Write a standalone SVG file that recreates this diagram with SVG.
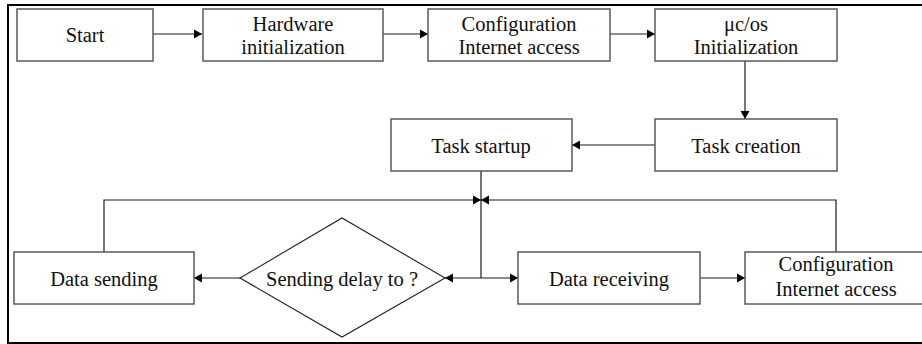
<svg xmlns="http://www.w3.org/2000/svg" width="922" height="344" viewBox="0 0 922 344">
  <style>
    .box { fill: #ffffff; stroke: #5a5a5a; stroke-width: 1.5; }
    .frame { fill: none; stroke: #000000; stroke-width: 2; }
    .wire { fill: none; stroke: #1a1a1a; stroke-width: 1.2; }
    .lbl { font-family: "Liberation Serif", "Times New Roman", serif; font-size: 20.5px; fill: #111111; text-anchor: middle; }
  </style>
  <defs>
    <marker id="arrow" markerUnits="userSpaceOnUse" markerWidth="9" markerHeight="10" refX="8" refY="5" orient="auto">
      <path d="M0,0.5 L8,5 L0,9.5 z" fill="#000000"/>
    </marker>
  </defs>

  <rect width="922" height="344" fill="#ffffff"/>

  <!-- outer frame (open on the right) -->
  <path class="frame" d="M922,5 L8,5 L8,343 L922,343"/>

  <!-- connectors -->
  <g id="connectors">
    <line class="wire" x1="153" y1="34" x2="202" y2="34" marker-end="url(#arrow)"/>
    <line class="wire" x1="383" y1="34" x2="428" y2="34" marker-end="url(#arrow)"/>
    <line class="wire" x1="610" y1="34" x2="655" y2="34" marker-end="url(#arrow)"/>
    <line class="wire" x1="745" y1="61" x2="745" y2="119" marker-end="url(#arrow)"/>
    <line class="wire" x1="655" y1="145" x2="572" y2="145" marker-end="url(#arrow)"/>
    <line class="wire" x1="481" y1="171" x2="481" y2="278"/>
    <line class="wire" x1="481" y1="278" x2="445" y2="278" marker-end="url(#arrow)"/>
    <line class="wire" x1="481" y1="278" x2="518" y2="278" marker-end="url(#arrow)"/>
    <line class="wire" x1="240" y1="278" x2="194" y2="278" marker-end="url(#arrow)"/>
    <line class="wire" x1="700" y1="278" x2="745" y2="278" marker-end="url(#arrow)"/>
    <polyline class="wire" points="104,252 104,200 481,200" marker-end="url(#arrow)"/>
    <polyline class="wire" points="836,252 836,200 481,200" marker-end="url(#arrow)"/>
  </g>

  <g id="start">
    <rect class="box" x="17" y="9" width="136" height="52"/>
    <text class="lbl" x="85" y="42">Start</text>
  </g>
  <g id="hardware-init">
    <rect class="box" x="203" y="9" width="180" height="52"/>
    <text class="lbl" x="293" y="30.5">Hardware</text>
    <text class="lbl" x="293" y="53.5">initialization</text>
  </g>
  <g id="config-access">
    <rect class="box" x="428" y="9" width="182" height="52"/>
    <text class="lbl" x="519" y="30.5">Configuration</text>
    <text class="lbl" x="519" y="53.5">Internet access</text>
  </g>
  <g id="ucos-init">
    <rect class="box" x="655" y="9" width="182" height="52"/>
    <text class="lbl" x="746" y="30.5">μc/os</text>
    <text class="lbl" x="746" y="53.5">Initialization</text>
  </g>
  <g id="task-creation">
    <rect class="box" x="655" y="119" width="182" height="52"/>
    <text class="lbl" x="746" y="152.5">Task creation</text>
  </g>
  <g id="task-startup">
    <rect class="box" x="391" y="119" width="181" height="52"/>
    <text class="lbl" x="481" y="152.5">Task startup</text>
  </g>
  <g id="data-sending">
    <rect class="box" x="14" y="252" width="180" height="52"/>
    <text class="lbl" x="104" y="286">Data sending</text>
  </g>
  <g id="send-delay">
    <polygon class="box" points="240,278 342,218 445,278 342,337" style="stroke:#222222;stroke-width:1.1"/>
    <text class="lbl" x="342" y="286">Sending delay to ?</text>
  </g>
  <g id="data-receiving">
    <rect class="box" x="518" y="252" width="182" height="52"/>
    <text class="lbl" x="609" y="286">Data receiving</text>
  </g>
  <g id="config-access-2">
    <rect class="box" x="745" y="252" width="182" height="52"/>
    <text class="lbl" x="836" y="271">Configuration</text>
    <text class="lbl" x="836" y="296">Internet access</text>
  </g>
</svg>
